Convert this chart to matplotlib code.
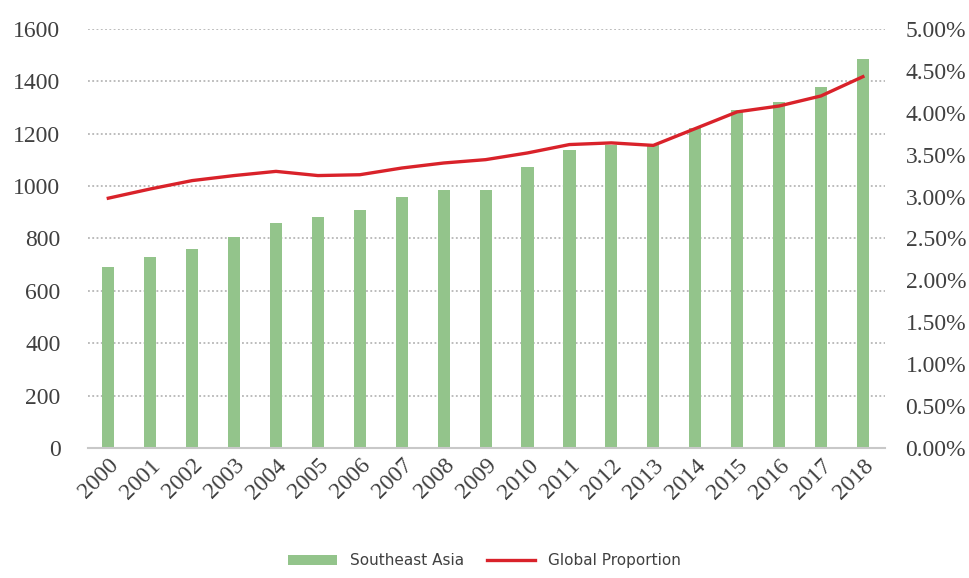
import numpy as np
import matplotlib.pyplot as plt
from matplotlib.ticker import FuncFormatter

years = [str(y) for y in range(2000, 2019)]
southeast_asia = [690, 730, 760, 805, 860, 880, 910, 960, 985, 985,
                  1072, 1137, 1155, 1155, 1220, 1290, 1320, 1378, 1485]
global_share = [2.98, 3.09, 3.19, 3.25, 3.30, 3.25, 3.26, 3.34, 3.40, 3.44,
                3.52, 3.62, 3.64, 3.61, 3.81, 4.01, 4.08, 4.20, 4.43]

bar_color = '#93c48b'
line_color = '#d9222a'
text_color = '#404040'
serif = ['Liberation Serif', 'DejaVu Serif']

fig = plt.figure(figsize=(9.69, 5.78), dpi=100)
ax = fig.add_axes([0.091, 0.225, 0.822, 0.725])
x = np.arange(len(years))

bars = ax.bar(x, southeast_asia, width=0.29, color=bar_color, zorder=2,
              label='Southeast Asia')
ax.set_ylim(0, 1600)
ax.set_yticks(np.arange(0, 1601, 200))
ax.set_xlim(-0.48, len(years) - 0.48)
ax.set_xticks(x)
ax.set_xticklabels(years, rotation=45, ha='right', rotation_mode='anchor',
                   family=serif, fontsize=17, color=text_color)
for lab in ax.get_yticklabels():
    lab.set_family(serif)
    lab.set_fontsize(17)
    lab.set_color(text_color)
ax.tick_params(axis='both', length=0)
ax.tick_params(axis='y', pad=20)
ax.tick_params(axis='x', pad=5)

ax.yaxis.grid(True, linestyle=(0, (1.2, 1.6)), color='#aaaaaa', linewidth=1.1)
ax.set_axisbelow(True)
for side in ['top', 'right', 'left']:
    ax.spines[side].set_visible(False)
ax.spines['bottom'].set_color('#c8c8c8')
ax.spines['bottom'].set_linewidth(1.5)

ax2 = ax.twinx()
line, = ax2.plot(x, global_share, color=line_color, linewidth=2.4, zorder=3,
                 label='Global Proportion')
ax2.set_ylim(0, 5)
ax2.set_yticks(np.arange(0, 5.01, 0.5))
ax2.yaxis.set_major_formatter(FuncFormatter(lambda v, p: f'{v:.2f}%'))
for lab in ax2.get_yticklabels():
    lab.set_family(serif)
    lab.set_fontsize(17)
    lab.set_color(text_color)
ax2.tick_params(axis='y', length=0, pad=15)
for side in ['top', 'right', 'left', 'bottom']:
    ax2.spines[side].set_visible(False)

fig.legend([bars, line], ['Southeast Asia', 'Global Proportion'],
           loc='center', bbox_to_anchor=(0.5, 0.03), ncol=2, frameon=False,
           prop={'family': 'DejaVu Sans', 'size': 11}, handlelength=3.2,
           handleheight=0.6, columnspacing=1.5, labelcolor=text_color)

fig.savefig('out.png', dpi=100, facecolor='white')
